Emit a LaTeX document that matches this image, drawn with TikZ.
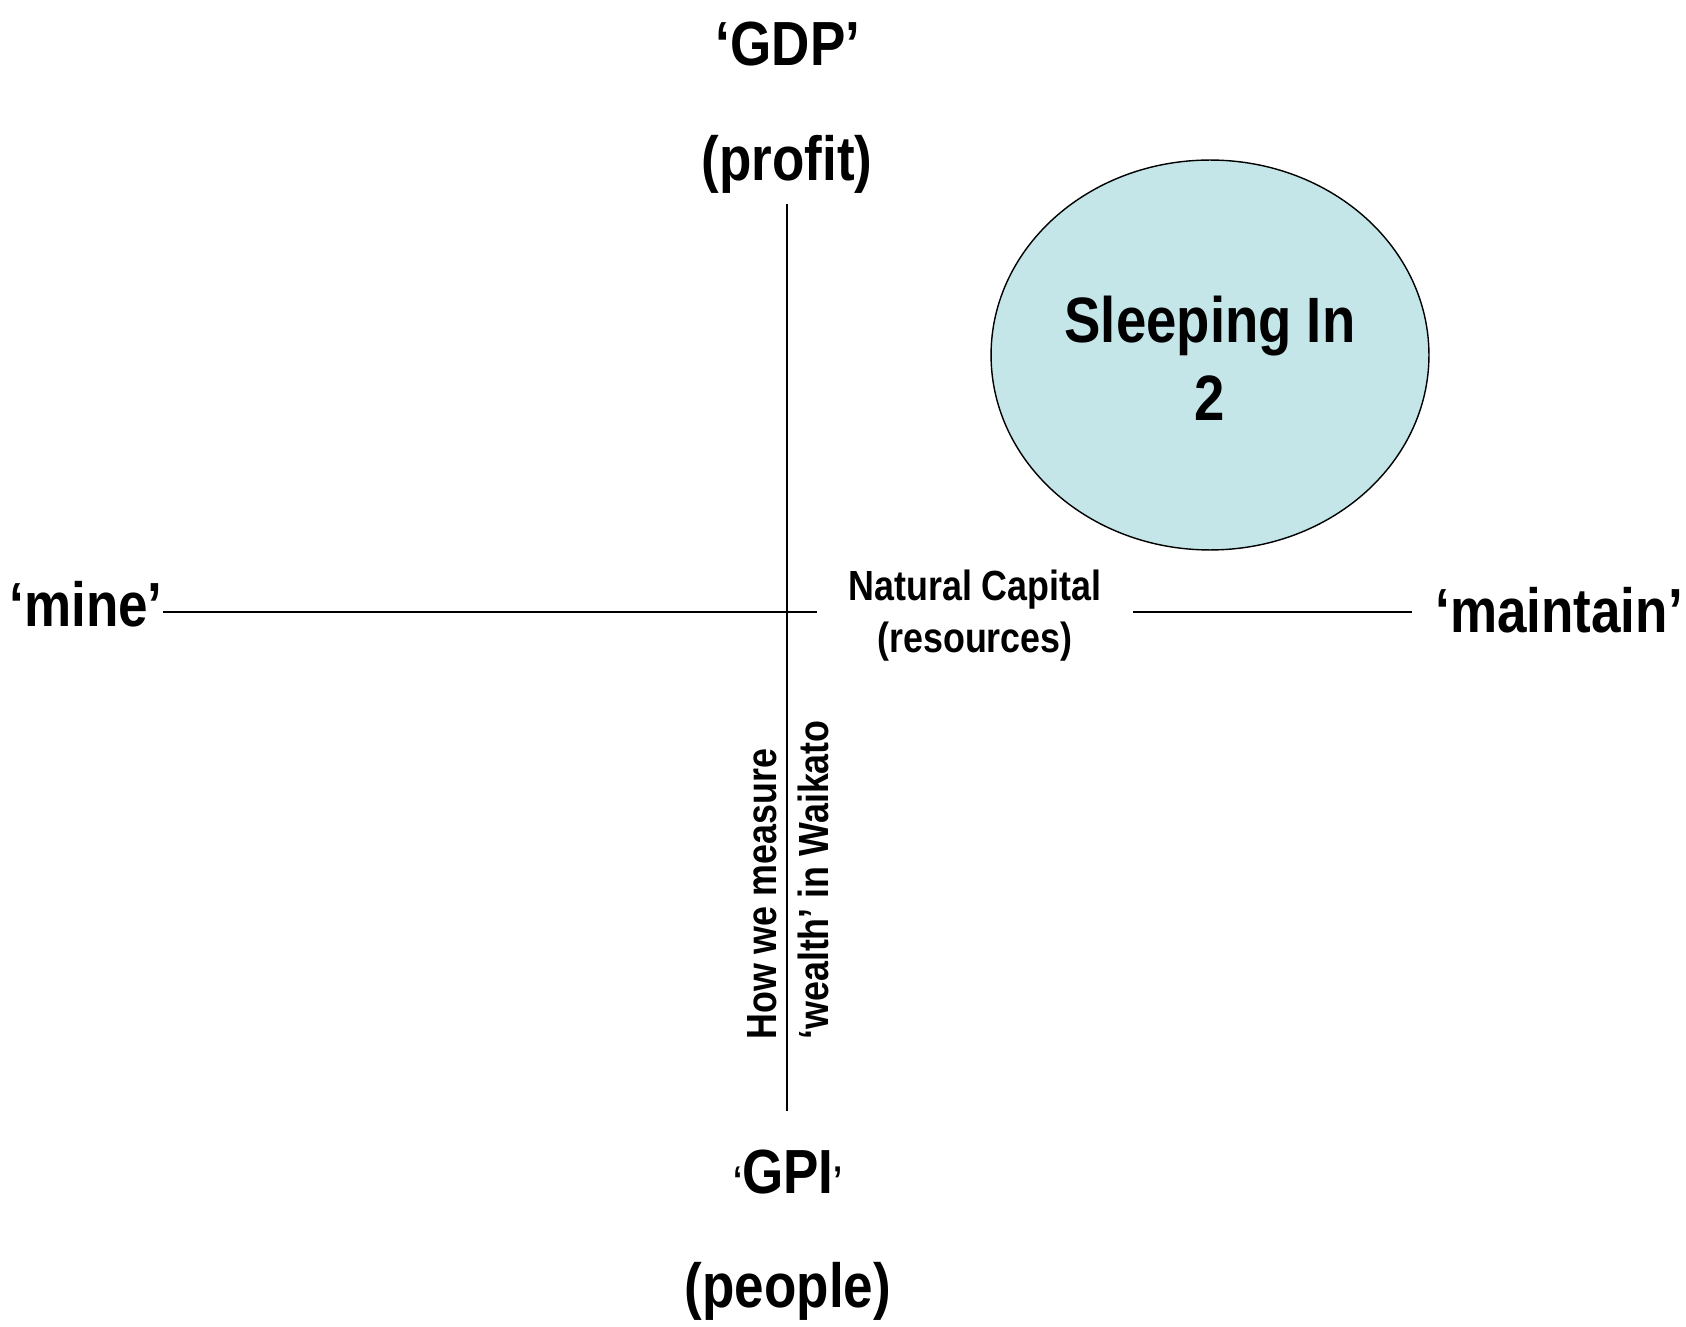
\documentclass[tikz,border=0pt]{standalone}
\usepackage{fontspec}
\setmainfont{Liberation Sans}[FakeStretch=0.85]
\usepackage{xcolor}
\usepackage{tikz}
\usetikzlibrary{calc}
\usetikzlibrary{positioning}
\usetikzlibrary{shapes.geometric}
\definecolor{paleblue}{RGB}{196,230,232}

\begin{document}
\begin{tikzpicture}[x=0.02cm, y=-0.02cm]

        \useasboundingbox (0,0) rectangle (1686,1327);

        % Sizes of the texts
        \tikzset{
            big/.style={font=\bfseries\fontsize{35.5}{42}\selectfont, inner sep=0pt},
            mid/.style={font=\bfseries\fontsize{24}{29.6}\selectfont, inner sep=0pt, align=center},
            small/.style={font=\bfseries\fontsize{24}{29.6}\selectfont, inner sep=0pt, align=left}
        }

        % Scope used for the labels round the axes
        \begin{scope}
            \node[big] (GDP) at (788, 44) {`GDP'};
            \node[big] (Prof) at (787, 164) {(profit)};
            \node[big] (GPI) at (788, 1172) {{\fontsize{22}{26}\selectfont`}GPI{\fontsize{22}{26}\selectfont'}};
            \node[big] (Ppl) at (788, 1291) {(people)};
            \node[big, anchor=east] (Mine) at (163, 604) {`mine'};
            \node[big, anchor=west] (Main) at (1435, 610) {`maintain'};
            \node[mid] (NC) at (975, 616) {Natural Capital\\(resources)};
            \node[small, rotate=90] (HW) at (788, 880)
            {How we measure\\`wealth' in Waikato};

            \node[draw, ellipse, fill=paleblue, line width=0.8pt,
                minimum width=8.76cm, minimum height=7.8cm] (SI) at (1210, 355) {};
            \node[font=\bfseries\fontsize{36.5}{44.5}\selectfont, align=center]
            (SIt) at (1210, 358) {Sleeping In\\2};

            \coordinate (V1) at (787, 204);
            \coordinate (V2) at (787, 1111);
            \coordinate (H1) at (817, 612);
            \coordinate (H2) at (1133, 612);
            \coordinate (H3) at (1412, 612);
        \end{scope}

        \begin{scope}[line width=0.8pt]
            \draw (V1) -- (V2);
            \draw (Mine.east |- H1) -- (H1);
            \draw (H2) -- (H3);
        \end{scope}

        \end{tikzpicture}
\end{document}
